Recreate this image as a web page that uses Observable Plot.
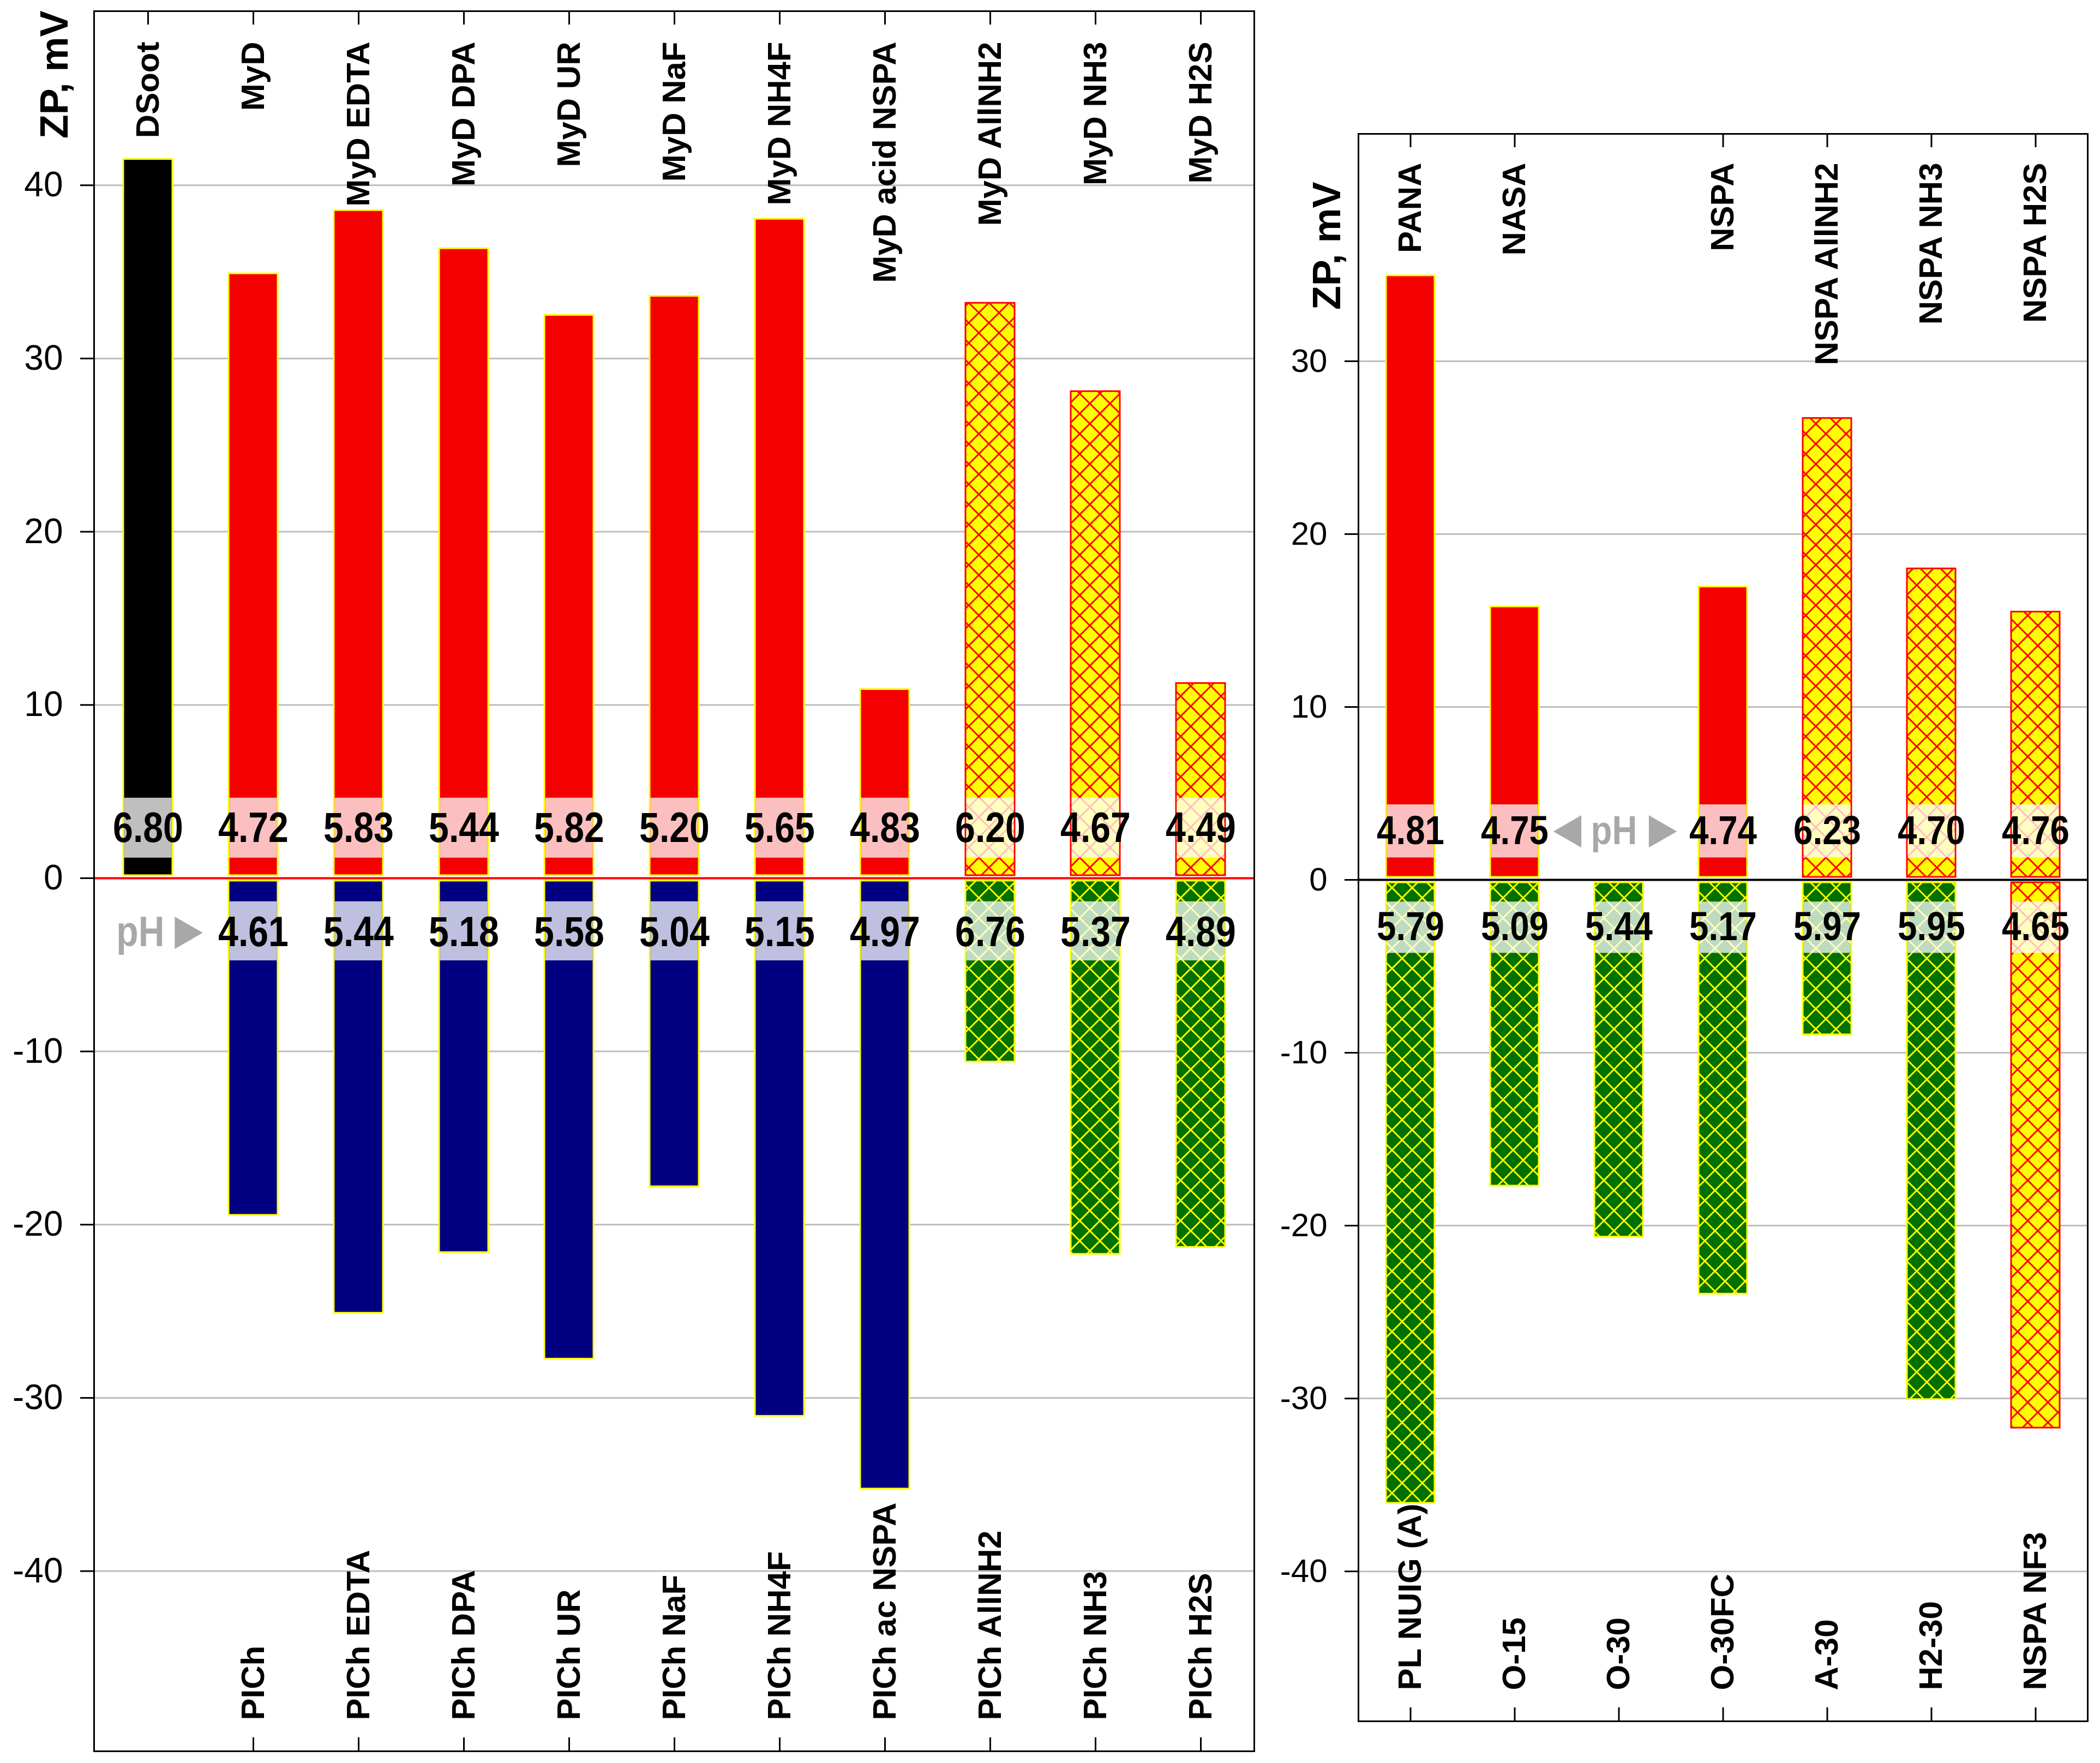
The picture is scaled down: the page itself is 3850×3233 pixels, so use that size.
<!DOCTYPE html>
<html>
<head>
<meta charset="utf-8">
<script src="https://cdn.jsdelivr.net/npm/d3@7"></script>
<script src="https://cdn.jsdelivr.net/npm/@observablehq/plot@0.6"></script>
<style>
html, body { margin: 0; padding: 0; background: #fff; }
#wrap { position: relative; width: 3850px; height: 3233px; background: #fff; overflow: hidden; }
#wrap svg { position: absolute; top: 0; }
</style>
</head>
<body>
<div id="wrap"></div>
<script>
// ---------- Left panel data ----------
const leftTop = ["DSoot", "MyD", "MyD EDTA", "MyD DPA", "MyD UR", "MyD NaF", "MyD NH4F", "MyD acid NSPA", "MyD AllNH2", "MyD NH3", "MyD H2S"];
const leftBottom = ["", "PICh", "PICh EDTA", "PICh DPA", "PICh UR", "PICh NaF", "PICh NH4F", "PICh ac NSPA", "PICh AllNH2", "PICh NH3", "PICh H2S"];
const leftUpper = [41.5, 34.9, 38.55, 36.35, 32.5, 33.6, 38.05, 10.9, 33.2, 28.1, 11.25];
const leftLower = [null, -19.45, -25.1, -21.6, -27.75, -17.8, -31.05, -35.25, -10.6, -21.7, -21.3];
const leftUpperPH = [6.80, 4.72, 5.83, 5.44, 5.82, 5.20, 5.65, 4.83, 6.20, 4.67, 4.49];
const leftLowerPH = [null, 4.61, 5.44, 5.18, 5.58, 5.04, 5.15, 4.97, 6.76, 5.37, 4.89];
const leftUpperGroup = ["soot", "plain", "plain", "plain", "plain", "plain", "plain", "plain", "gas", "gas", "gas"];
const leftLowerGroup = [null, "plain", "plain", "plain", "plain", "plain", "plain", "plain", "gas", "gas", "gas"];
const leftTicks = [-40, -30, -20, -10, 0, 10, 20, 30, 40];

// ---------- Right panel data ----------
const rightTop = ["PANA", "NASA", "", "NSPA", "NSPA AllNH2", "NSPA NH3", "NSPA H2S"];
const rightBottom = ["PL NUIG (A)", "O-15", "O-30", "O-30FC", "A-30", "H2-30", "NSPA NF3"];
const rightUpper = [34.95, 15.8, null, 16.95, 26.7, 18.0, 15.5];
const rightLower = [-36.05, -17.7, -20.65, -23.95, -8.95, -30.05, -31.7];
const rightUpperPH = [4.81, 4.75, null, 4.74, 6.23, 4.70, 4.76];
const rightLowerPH = [5.79, 5.09, 5.44, 5.17, 5.97, 5.95, 4.65];
const rightUpperGroup = ["plain", "plain", null, "plain", "gas", "gas", "gas"];
const rightLowerGroup = ["gas", "gas", "gas", "gas", "gas", "gas", "nf3"];
const rightTicks = [-40, -30, -20, -10, 0, 10, 20, 30];

const SANS = "'Liberation Sans', Arial, sans-serif";
const fmt = d3.format(".2f");

// condensed rendering for the pH numbers (Arial Narrow look)
function condensed(index, scales, values, dimensions, context, next) {
  const g = next(index, scales, values, dimensions, context);
  d3.select(g).selectAll("text").attr("transform", function () {
    const t = this.getAttribute("transform") || "";
    return t + " scale(0.86,1)";
  });
  return g;
}

function addDefs(svg, id) {
  const s = 37;
  d3.select(svg).insert("defs", ":first-child").html(`
    <pattern id="${id}-hyr" patternUnits="userSpaceOnUse" width="${s}" height="${s}">
      <rect width="${s}" height="${s}" fill="#ffff00"/>
      <path d="M0,0L${s},${s}M${s},0L0,${s}" stroke="#ff0000" stroke-width="3" fill="none"/>
    </pattern>
    <pattern id="${id}-hgy" patternUnits="userSpaceOnUse" width="${s}" height="${s}">
      <rect width="${s}" height="${s}" fill="#007000"/>
      <path d="M0,0L${s},${s}M${s},0L0,${s}" stroke="#ffff00" stroke-width="3" fill="none"/>
    </pattern>`);
}

function panel(c) {
  const n = c.top.length;
  const idx = d3.range(n);
  const up = idx.filter(i => c.upper[i] != null).map(i => ({i, v: c.upper[i], ph: c.upperPH[i], g: c.upperGroup[i]}));
  const lo = idx.filter(i => c.lower[i] != null).map(i => ({i, v: c.lower[i], ph: c.lowerPH[i], g: c.lowerGroup[i]}));
  const frameH = c.height - c.mT - c.mB;
  const styleUp = {soot: ["#000000", "#ffff00"], plain: ["#f40000", "#ffff00"], gas: [`url(#${c.id}-hyr)`, "#ff0000"]};
  const styleLo = {plain: ["#000080", "#ffff00"], gas: [`url(#${c.id}-hgy)`, "#ffff00"], nf3: [`url(#${c.id}-hyr)`, "#ff0000"]};
  const marks = [];
  marks.push(Plot.ruleY(c.yTicks.filter(t => t !== 0), {stroke: "#bdbdbd", strokeWidth: 3}));
  for (const g of new Set(up.map(d => d.g))) {
    marks.push(Plot.barY(up.filter(d => d.g === g), {x: "i", y1: 0, y2: "v", fill: styleUp[g][0], stroke: styleUp[g][1], strokeWidth: 3, insetBottom: 5}));
  }
  for (const g of new Set(lo.map(d => d.g))) {
    marks.push(Plot.barY(lo.filter(d => d.g === g), {x: "i", y1: 0, y2: "v", fill: styleLo[g][0], stroke: styleLo[g][1], strokeWidth: 3, insetTop: 5}));
  }
  // translucent bands behind pH values
  marks.push(Plot.barY(up, {x: "i", y1: c.bandUp[0], y2: c.bandUp[1], fill: "white", fillOpacity: 0.75, insetLeft: 1.5, insetRight: 1.5}));
  marks.push(Plot.barY(lo, {x: "i", y1: c.bandLo[0], y2: c.bandLo[1], fill: "white", fillOpacity: 0.75, insetLeft: 1.5, insetRight: 1.5}));
  marks.push(Plot.ruleY([0], {stroke: c.zeroColor, strokeWidth: 4}));
  marks.push(Plot.text(up, {x: "i", y: c.textUp, text: d => fmt(d.ph), fontSize: c.phSize, fontWeight: "bold", fontFamily: SANS, fill: "black", render: condensed}));
  marks.push(Plot.text(lo, {x: "i", y: c.textLo, text: d => fmt(d.ph), fontSize: c.phSize, fontWeight: "bold", fontFamily: SANS, fill: "black", render: condensed}));
  // pH annotation
  const a = c.phNote;
  marks.push(Plot.text([a.slot], {x: d => d, y: a.y, text: () => "pH", dx: a.textDx, fontSize: c.phSize, fontWeight: "bold", fontFamily: SANS, fill: "#a8a8a8", render: condensed}));
  for (const t of a.tri) {
    marks.push(Plot.dot([a.slot], {x: d => d, y: a.y, symbol: "triangle", r: 22, rotate: t.rot, dx: t.dx, fill: "#a8a8a8", stroke: null}));
  }
  // category labels
  marks.push(Plot.text(idx.filter(i => c.top[i]), {x: d => d, text: d => c.top[d], frameAnchor: "top", lineAnchor: "middle", rotate: -90, textAnchor: "end", dy: c.topDy, fontSize: 60, fontWeight: "bold", fontFamily: SANS, fill: "black"}));
  marks.push(Plot.text(idx.filter(i => c.bottom[i]), {x: d => d, text: d => c.bottom[d], frameAnchor: "bottom", lineAnchor: "middle", rotate: -90, textAnchor: "start", dy: -57, fontSize: 60, fontWeight: "bold", fontFamily: SANS, fill: "black"}));
  // inward ticks on top and bottom
  marks.push(Plot.tickX(idx.filter(i => c.top[i]), {x: d => d, stroke: "black", strokeWidth: 3, insetBottom: frameH - 25}));
  marks.push(Plot.tickX(idx.filter(i => c.bottom[i]), {x: d => d, stroke: "black", strokeWidth: 3, insetTop: frameH - 25}));
  marks.push(Plot.frame({stroke: "black", strokeWidth: 3}));
  marks.push(Plot.axisY({ticks: c.yTicks, tickSize: 25, tickPadding: 32, fontSize: c.tickFont, tickFormat: d => String(d), strokeWidth: 3, label: null}));
  marks.push(Plot.text(["ZP, mV"], {text: d => d, frameAnchor: "top-left", lineAnchor: "middle", rotate: -90, textAnchor: "end", dx: c.zpDx, dy: c.zpDy, fontSize: 72, fontWeight: "bold", fontFamily: SANS, fill: "black"}));

  const svg = Plot.plot({
    width: c.width, height: c.height,
    marginLeft: c.mL, marginRight: c.mR, marginTop: c.mT, marginBottom: c.mB,
    x: {type: "band", domain: idx, paddingInner: 0.535, paddingOuter: 0.2675, axis: null},
    y: {type: "linear", domain: c.yDomain},
    style: {fontFamily: SANS, background: "transparent", color: "black"},
    marks
  });
  addDefs(svg, c.id);
  svg.style.left = c.left + "px";
  return svg;
}

const wrap = document.getElementById("wrap");
wrap.appendChild(panel({
  id: "L", left: 0, width: 2320, height: 3233, mL: 172, mR: 21, mT: 20, mB: 22,
  top: leftTop, bottom: leftBottom, upper: leftUpper, lower: leftLower,
  upperPH: leftUpperPH, lowerPH: leftLowerPH, upperGroup: leftUpperGroup, lowerGroup: leftLowerGroup,
  yTicks: leftTicks, yDomain: [-50.4, 50.05],
  zeroColor: "#ff0000", tickFont: 64, phSize: 77,
  bandUp: [1.17, 4.63], bandLo: [-1.35, -4.76], textUp: 2.87, textLo: -3.15,
  topDy: 56, zpDx: -72, zpDy: -1,
  phNote: {slot: 0, y: -3.15, textDx: -14, tri: [{rot: 90, dx: 66}]}
}));
wrap.appendChild(panel({
  id: "R", left: 2330, width: 1520, height: 3233, mL: 160, mR: 23, mT: 245, mB: 77,
  top: rightTop, bottom: rightBottom, upper: rightUpper, lower: rightLower,
  upperPH: rightUpperPH, lowerPH: rightLowerPH, upperGroup: rightUpperGroup, lowerGroup: rightLowerGroup,
  yTicks: rightTicks, yDomain: [-48.67, 43.15],
  zeroColor: "#000000", tickFont: 60, phSize: 74,
  bandUp: [1.28, 4.35], bandLo: [-1.27, -4.24], textUp: 2.8, textLo: -2.75,
  topDy: 53, zpDx: -57, zpDy: 88,
  phNote: {slot: 2, y: 2.8, textDx: -9, tri: [{rot: -90, dx: -86}, {rot: 90, dx: 72}]}
}));
</script>
</body>
</html>
